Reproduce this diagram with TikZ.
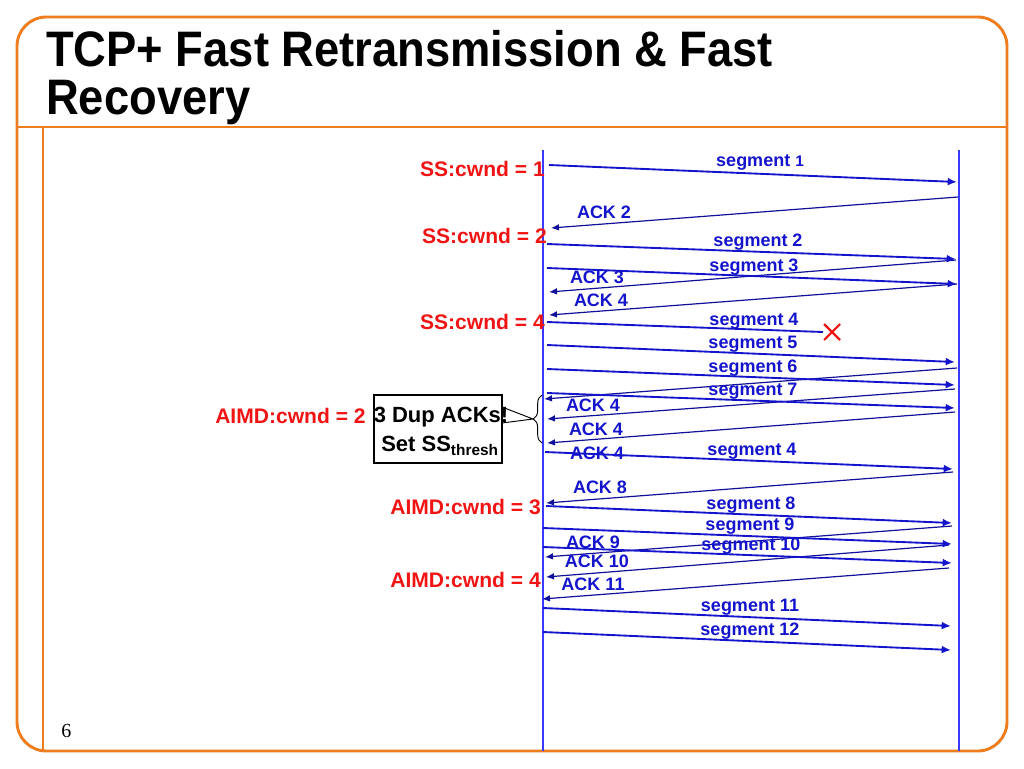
\documentclass[tikz,border=0pt]{standalone}
\usepackage{fontspec}
\setmainfont{Liberation Sans}
\newfontfamily\serifnum{Liberation Serif}
\usetikzlibrary{arrows.meta,decorations.pathreplacing}
\definecolor{frameorange}{HTML}{EE7D1E}
\definecolor{msgblue}{HTML}{1414CC}
\definecolor{ackblue}{HTML}{10109A}
\definecolor{lineblue}{HTML}{3A3AFF}
\definecolor{labelred}{HTML}{F01414}
\tikzset{
  seg/.style={draw=msgblue, line width=1.4pt, -{Latex[length=7pt,width=6pt]}},
  ack/.style={draw=ackblue, line width=0.9pt, -{Latex[length=6pt,width=5pt]}},
  timeline/.style={draw=lineblue, line width=0.8pt},
  frame/.style={draw=frameorange, line width=2.2pt},
  mlabel/.style={text=msgblue, font=\fontsize{13.5}{15}\selectfont\bfseries, inner sep=0pt},
  rlabel/.style={text=labelred, font=\fontsize{15.8}{18}\selectfont\bfseries, inner sep=0pt},
  title/.style={font=\fontsize{34}{40}\selectfont\bfseries, inner sep=0pt, anchor=base west},
  note/.style={font=\fontsize{16.5}{20}\selectfont\bfseries, inner sep=0pt}
}
\begin{document}
\begin{tikzpicture}[x=0.75pt,y=-0.75pt]
\useasboundingbox (0,0) rectangle (1024,768);
% frame
\draw[frame, rounded corners=22pt] (17,17) rectangle (1007,751);
\coordinate (divL) at (17,127);
\coordinate (divR) at (1007,127);
\coordinate (barT) at (43,127);
\coordinate (barB) at (43,751);
\draw[frame] (divL) -- (divR);
\draw[frame] (barT) -- (barB);
% title
\node[title] (t1) at (46,66) {\scalebox{1}[1.1]{TCP+ Fast Retransmission \& Fast}};
\node[title] (t2) at (46,114) {\scalebox{1}[1.1]{Recovery}};
\node[font=\serifnum\fontsize{15}{18}\selectfont, anchor=base west, inner sep=0pt] (pg) at (61,737) {6};
% timelines
\coordinate (sT) at (543,150);
\coordinate (sB) at (543,751);
\coordinate (rT) at (959,150);
\coordinate (rB) at (959,751);
\draw[timeline] (sT) -- (sB);
\draw[timeline] (rT) -- (rB);
% segments (sender -> receiver)
\coordinate (m1a) at (549,165);  \coordinate (m1b) at (957,182);
\coordinate (m3a) at (547,244);  \coordinate (m3b) at (956,259);
\coordinate (m4a) at (547,268);  \coordinate (m4b) at (957,284);
\coordinate (m7a) at (547,322);  \coordinate (m7b) at (823,332);
\coordinate (m8a) at (547,345);  \coordinate (m8b) at (955,362);
\coordinate (m9a) at (547,369);  \coordinate (m9b) at (955,385);
\coordinate (m11a) at (547,393); \coordinate (m11b) at (955,408);
\coordinate (m14a) at (545,452); \coordinate (m14b) at (953,469);
\coordinate (m16a) at (546,506); \coordinate (m16b) at (952,523);
\coordinate (m17a) at (543,528); \coordinate (m17b) at (952,544);
\coordinate (m19a) at (543,547); \coordinate (m19b) at (952,563);
\coordinate (m22a) at (543,608); \coordinate (m22b) at (951,626);
\coordinate (m23a) at (543,632); \coordinate (m23b) at (951,650);
% acks (receiver -> sender)
\coordinate (m2a) at (958,197);  \coordinate (m2b) at (551,228);
\coordinate (m5a) at (956,260);  \coordinate (m5b) at (549,292);
\coordinate (m6a) at (957,284);  \coordinate (m6b) at (549,315);
\coordinate (m10a) at (957,368); \coordinate (m10b) at (544,399);
\coordinate (m12a) at (955,389); \coordinate (m12b) at (547,419);
\coordinate (m13a) at (955,412); \coordinate (m13b) at (547,443);
\coordinate (m15a) at (953,472); \coordinate (m15b) at (546,503);
\coordinate (m18a) at (952,526); \coordinate (m18b) at (545,557);
\coordinate (m20a) at (949,545); \coordinate (m20b) at (546,577);
\coordinate (m21a) at (949,568); \coordinate (m21b) at (542,599);
\foreach \i in {2,5,6,10,12,13,15,18,20,21}
  \draw[ack] (m\i a) -- (m\i b);
\foreach \i in {1,3,4,8,9,11,14,16,17,19,22,23}
  \draw[seg] (m\i a) -- (m\i b);
\draw[draw=msgblue, line width=1.4pt] (m7a) -- (m7b);
% lost mark
\coordinate (x1) at (824,324); \coordinate (x2) at (840,340);
\coordinate (x3) at (824,340); \coordinate (x4) at (840,324);
\draw[labelred, line width=1.6pt] (x1) -- (x2) (x3) -- (x4);
% message labels
\node[mlabel] (l1) at (760,163) {segment {\fontsize{11.5}{13}\selectfont 1}};
\node[mlabel] (l2) at (604,212) {ACK 2};
\node[mlabel] (l3) at (758,242) {segment 2};
\node[mlabel] (l4) at (754,267) {segment 3};
\node[mlabel] (l5) at (597,277) {ACK 3};
\node[mlabel] (l6) at (601,300) {ACK 4};
\node[mlabel] (l7) at (754,321) {segment 4};
\node[mlabel] (l8) at (753,344) {segment 5};
\node[mlabel] (l9) at (753,368) {segment 6};
\node[mlabel] (l10) at (593,405) {ACK 4};
\node[mlabel] (l11) at (753,391) {segment 7};
\node[mlabel] (l12) at (596,429) {ACK 4};
\node[mlabel] (l13) at (597,453) {ACK 4};
\node[mlabel] (l14) at (752,451) {segment 4};
\node[mlabel] (l15) at (600,487) {ACK 8};
\node[mlabel] (l16) at (751,505) {segment 8};
\node[mlabel] (l17) at (750,526) {segment 9};
\node[mlabel] (l18) at (593,542) {ACK 9};
\node[mlabel] (l19) at (751,546) {segment 10};
\node[mlabel] (l20) at (597,561) {ACK 10};
\node[mlabel] (l21) at (593,584) {ACK 11};
\node[mlabel] (l22) at (750,607) {segment 11};
\node[mlabel] (l23) at (750,631) {segment 12};
% red state labels
\node[rlabel, anchor=east] (c1) at (545,169) {SS:cwnd = 1};
\node[rlabel, anchor=east] (c2) at (547,236) {SS:cwnd = 2};
\node[rlabel, anchor=east] (c3) at (545,322) {SS:cwnd = 4};
\node[rlabel, anchor=west] (c4) at (215,416) {AIMD:cwnd = 2};
\node[rlabel, anchor=east] (c5) at (541,507) {AIMD:cwnd = 3};
\node[rlabel, anchor=east] (c6) at (541,580) {AIMD:cwnd = 4};
% callout box
\node[draw=black, fill=white, line width=0.8pt, minimum width=96pt, minimum height=51pt, inner sep=0pt] (box) at (438,429) {};
\node[note] (n1) at (441,417) {3 Dup ACKs!};
\node[note] (n2) at (440,446) {Set SS\textsubscript{thresh}};
\coordinate (ptA) at (502,407);
\coordinate (ptB) at (502,423);
\coordinate (tip) at (533,419);
\draw[black, line width=0.7pt] (ptA) -- (tip) -- (ptB);
\coordinate (brB) at (542,443);
\coordinate (brT) at (542,395);
\draw[black, line width=0.7pt, decorate, decoration={brace, amplitude=6.5pt}] (brB) -- (brT);
\end{tikzpicture}
\end{document}
